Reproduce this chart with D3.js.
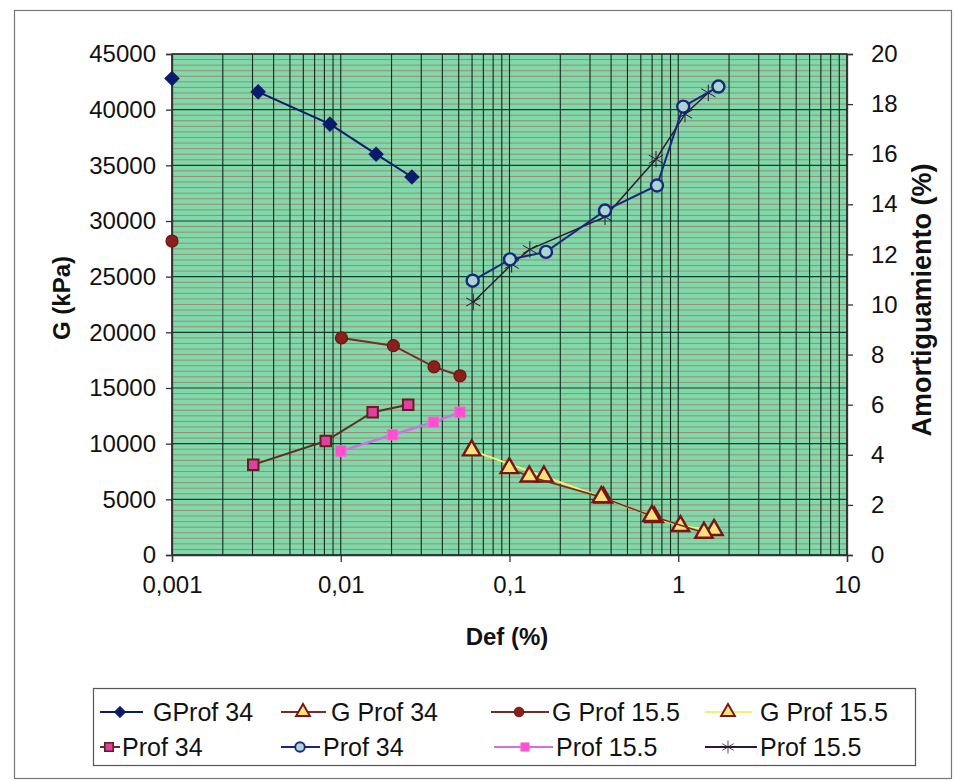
<!DOCTYPE html>
<html>
<head>
<meta charset="utf-8">
<script src="https://cdn.jsdelivr.net/npm/d3@7"></script>
<style>
  body { margin: 0; background: #fff; }
  svg text { font-family: "Liberation Sans", Arial, sans-serif; fill: #111; }
</style>
</head>
<body>
<div id="chart-area"></div>
<script>
// Data (Def in %, G in kPa, damping in %)
var gProf34DiamondDef = [0.001, null, 0.00324, 0.00863, 0.0162, 0.0264];
var gProf34DiamondG   = [42800, null, 41600, 38700, 36000, 33950];

var gProf34TriDef = [0.0997, 0.131, 0.35, 0.697, 1.42];
var gProf34TriG   = [7800, 7050, 5200, 3500, 2000];

var gProf155CircleDef = [0.001, null, 0.0101, 0.0205, 0.0357, 0.0509];
var gProf155CircleG   = [28200, null, 19500, 18800, 16900, 16100];

var gProf155TriDef = [0.0597, 0.16, 0.36, 0.72, 1.03, 1.63];
var gProf155TriG   = [9400, 7050, 5150, 3400, 2600, 2250];

var prof34SquareDef = [0.00303, 0.00815, 0.01545, 0.0251];
var prof34SquareD   = [3.6, 4.55, 5.7, 6.0];

var prof34CircleDef = [0.0605, 0.1007, 0.1645, 0.368, 0.748, 1.07, 1.73];
var prof34CircleD   = [10.95, 11.8, 12.1, 13.75, 14.75, 17.9, 18.7];

var prof155SquareDef = [0.01, 0.0203, 0.0354, 0.0509];
var prof155SquareD   = [4.15, 4.8, 5.3, 5.7];

var prof155StarDef = [0.061, 0.103, 0.132, 0.368, 0.738, 1.096, 1.507];
var prof155StarD   = [10.1, 11.6, 12.2, 13.5, 15.8, 17.6, 18.45];

var xTicks = [0.001, 0.01, 0.1, 1, 10];
var xTickLabels = ["0,001", "0,01", "0,1", "1", "10"];
var gTicks = [0, 5000, 10000, 15000, 20000, 25000, 30000, 35000, 40000, 45000];
var dTicks = [0, 2, 4, 6, 8, 10, 12, 14, 16, 18, 20];

var legendNames = ["GProf 34", "G Prof 34", "G Prof 15.5", "G Prof 15.5",
                   "Prof 34", "Prof 34", "Prof 15.5", "Prof 15.5"];

var W = 954, H = 781;
var plot = { left: 172, right: 847, top: 54, bottom: 555 };

var svg = d3.select("#chart-area")
    .append("svg")
        .attr("width", W)
        .attr("height", H);

// outer frame
svg.append("rect")
    .attr("x", 14.5).attr("y", 10.5)
    .attr("width", 937).attr("height", 768)
    .attr("fill", "none")
    .attr("stroke", "#777")
    .attr("stroke-width", 1.2);

// Scales
var x = d3.scaleLog()
    .domain([0.001, 10])
    .range([plot.left, plot.right]);

var yG = d3.scaleLinear()
    .domain([0, 45000])
    .range([plot.bottom, plot.top]);

var yD = d3.scaleLinear()
    .domain([0, 20])
    .range([plot.bottom, plot.top]);

// plot background
svg.append("rect")
    .attr("x", plot.left).attr("y", plot.top)
    .attr("width", plot.right - plot.left)
    .attr("height", plot.bottom - plot.top)
    .attr("fill", "#80d9aa");

// minor horizontal gridlines (brownish)
var minorG = d3.range(500, 45000, 500).filter(function(v){ return v % 5000 != 0; });
svg.append("g").selectAll("line")
    .data(minorG)
    .enter().append("line")
        .attr("x1", plot.left).attr("x2", plot.right)
        .attr("y1", function(d){ return yG(d); })
        .attr("y2", function(d){ return yG(d); })
        .attr("stroke", "#a27a68")
        .attr("stroke-width", 1)
        .attr("opacity", 0.8);

// major horizontal gridlines
svg.append("g").selectAll("line")
    .data(gTicks)
    .enter().append("line")
        .attr("x1", plot.left).attr("x2", plot.right)
        .attr("y1", function(d){ return yG(d); })
        .attr("y2", function(d){ return yG(d); })
        .attr("stroke", "#1c3a2a")
        .attr("stroke-width", 1.2);

// vertical gridlines at every log tick
var xGrid = x.ticks();
svg.append("g").selectAll("line")
    .data(xGrid)
    .enter().append("line")
        .attr("x1", function(d){ return x(d); })
        .attr("x2", function(d){ return x(d); })
        .attr("y1", plot.top).attr("y2", plot.bottom)
        .attr("stroke", "#0f2a1c")
        .attr("stroke-width", 1.1);

// frame of plot area
svg.append("rect")
    .attr("x", plot.left).attr("y", plot.top)
    .attr("width", plot.right - plot.left)
    .attr("height", plot.bottom - plot.top)
    .attr("fill", "none")
    .attr("stroke", "#222")
    .attr("stroke-width", 1.3);

// X Axis
var xAxisCall = d3.axisBottom(x)
    .tickValues(xTicks)
    .tickSize(7)
    .tickPadding(14)
    .tickFormat(function(d, i){ return xTickLabels[i]; });
svg.append("g")
    .attr("class", "x axis")
    .attr("transform", "translate(0," + plot.bottom + ")")
    .call(xAxisCall);

// Y Axis (left)
var yAxisCall = d3.axisLeft(yG)
    .tickValues(gTicks)
    .tickSize(6)
    .tickPadding(10)
    .tickFormat(function(d){ return d; });
svg.append("g")
    .attr("class", "y axis")
    .attr("transform", "translate(" + plot.left + ",0)")
    .call(yAxisCall);

// Y Axis (right)
var y2AxisCall = d3.axisRight(yD)
    .tickValues(dTicks)
    .tickSize(6)
    .tickPadding(18)
    .tickFormat(function(d){ return d; });
svg.append("g")
    .attr("class", "y2 axis")
    .attr("transform", "translate(" + plot.right + ",0)")
    .call(y2AxisCall);

svg.selectAll(".axis text")
    .attr("font-size", "24px")
    .style("font-family", "'Liberation Sans', Arial, sans-serif")
    .attr("fill", "#111");
svg.selectAll(".axis path, .axis line")
    .attr("stroke", "#333")
    .attr("stroke-width", 1.3);

// Labels
svg.append("text")
    .attr("x", 507).attr("y", 645)
    .attr("font-size", "24px")
    .attr("font-weight", "bold")
    .attr("text-anchor", "middle")
    .text("Def (%)");

svg.append("text")
    .attr("transform", "translate(70,298) rotate(-90)")
    .attr("font-size", "24px")
    .attr("font-weight", "bold")
    .attr("text-anchor", "middle")
    .text("G (kPa)");

svg.append("text")
    .attr("transform", "translate(931,300) rotate(-90)")
    .attr("font-size", "27px")
    .attr("font-weight", "bold")
    .attr("text-anchor", "middle")
    .text("Amortiguamiento (%)");

// marker drawing
var symTri = d3.symbol().type(d3.symbolTriangle).size(130);
var symSquare = d3.symbol().type(d3.symbolSquare).size(110);
var symStar = d3.symbol().type(d3.symbolAsterisk).size(190);

function drawMarker(sel, kind) {
    if (kind == "diamond") {
        sel.append("rect")
            .attr("x", -5).attr("y", -5).attr("width", 10).attr("height", 10)
            .attr("transform", "rotate(45)")
            .attr("fill", "#0c1a6e").attr("stroke", "#0c1a6e").attr("stroke-width", 1);
    } else if (kind == "tri") {
        sel.append("path").attr("d", symTri())
            .attr("fill", "#fbe27a").attr("stroke", "#7a1414").attr("stroke-width", 2.4);
    } else if (kind == "circleFill") {
        sel.append("circle").attr("r", 6)
            .attr("fill", "#8a1f1c").attr("stroke", "#6a1612").attr("stroke-width", 1.2);
    } else if (kind == "squareDark") {
        sel.append("path").attr("d", symSquare())
            .attr("fill", "#e23ea5").attr("stroke", "#5a2418").attr("stroke-width", 2);
    } else if (kind == "circleOpen") {
        sel.append("circle").attr("r", 6)
            .attr("fill", "#a9d6d0").attr("stroke", "#1a2580").attr("stroke-width", 2.4);
    } else if (kind == "squarePink") {
        sel.append("path").attr("d", symSquare())
            .attr("fill", "#ff4fd0").attr("stroke", "#f070d8").attr("stroke-width", 1);
    } else if (kind == "star") {
        sel.append("path").attr("d", symStar())
            .attr("fill", "#2a1a30").attr("stroke", "#2a1a30").attr("stroke-width", 1);
    }
}

var seriesList = [
    { def: gProf155TriDef, val: gProf155TriG, y: yG, line: "#f6f06a", width: 2, kind: "tri" },
    { def: gProf34TriDef, val: gProf34TriG, y: yG, line: "#7a2a20", width: 1.6, kind: "tri" },
    { def: gProf34DiamondDef, val: gProf34DiamondG, y: yG, line: "#0c1a6e", width: 2, kind: "diamond" },
    { def: gProf155CircleDef, val: gProf155CircleG, y: yG, line: "#7a2a20", width: 2, kind: "circleFill" },
    { def: prof34SquareDef, val: prof34SquareD, y: yD, line: "#5a3024", width: 2, kind: "squareDark" },
    { def: prof155SquareDef, val: prof155SquareD, y: yD, line: "#d070e0", width: 2.4, kind: "squarePink" },
    { def: prof155StarDef, val: prof155StarD, y: yD, line: "#2a1a30", width: 1.4, kind: "star" },
    { def: prof34CircleDef, val: prof34CircleD, y: yD, line: "#1a2580", width: 2, kind: "circleOpen" }
];

seriesList.forEach(function(s) {
    var pts = s.def.map(function(d, i){ return { x: d, v: s.val[i] }; });
    var line = d3.line()
        .defined(function(d){ return d.x != null && d.v != null; })
        .x(function(d){ return x(d.x); })
        .y(function(d){ return s.y(d.v); });
    svg.append("path")
        .datum(pts)
        .attr("fill", "none")
        .attr("stroke", s.line)
        .attr("stroke-width", s.width)
        .attr("d", line);
    var marks = svg.append("g").selectAll("g")
        .data(pts.filter(function(d){ return d.x != null && d.v != null; }))
        .enter().append("g")
            .attr("transform", function(d){ return "translate(" + x(d.x) + "," + s.y(d.v) + ")"; });
    drawMarker(marks, s.kind);
});

// Legends
var legend = svg.append("g");
legend.append("rect")
    .attr("x", 93.5).attr("y", 688.5)
    .attr("width", 822).attr("height", 77)
    .attr("fill", "#fff")
    .attr("stroke", "#555")
    .attr("stroke-width", 1.2);

var legendLayout = [
    { x1: 100, x2: 143, mx: 120, tx: 153, y: 712, kind: "diamond", line: "#0c1a6e" },
    { x1: 281, x2: 326, mx: 303, tx: 331, y: 712, kind: "tri", line: "#7a2a20" },
    { x1: 491, x2: 549, mx: 519, tx: 552, y: 712, kind: "circleFill", line: "#7a2a20" },
    { x1: 705, x2: 752, mx: 728, tx: 760, y: 712, kind: "tri", line: "#f6f06a" },
    { x1: 100, x2: 120, mx: 109, tx: 122, y: 747, kind: "squareDark", line: "#5a3024" },
    { x1: 281, x2: 320, mx: 300, tx: 323, y: 747, kind: "circleOpen", line: "#1a2580" },
    { x1: 494, x2: 553, mx: 525, tx: 556, y: 747, kind: "squarePink", line: "#d070e0" },
    { x1: 705, x2: 757, mx: 728, tx: 760, y: 747, kind: "star", line: "#2a1a30" }
];

legendLayout.forEach(function(l, i) {
    legend.append("line")
        .attr("x1", l.x1).attr("x2", l.x2)
        .attr("y1", l.y).attr("y2", l.y)
        .attr("stroke", l.line)
        .attr("stroke-width", 2);
    var m = legend.append("g")
        .attr("transform", "translate(" + l.mx + "," + l.y + ") scale(0.8)");
    drawMarker(m, l.kind);
    legend.append("text")
        .attr("x", l.tx).attr("y", l.y + 9)
        .attr("font-size", "25px")
        .text(legendNames[i]);
});
</script>
</body>
</html>
